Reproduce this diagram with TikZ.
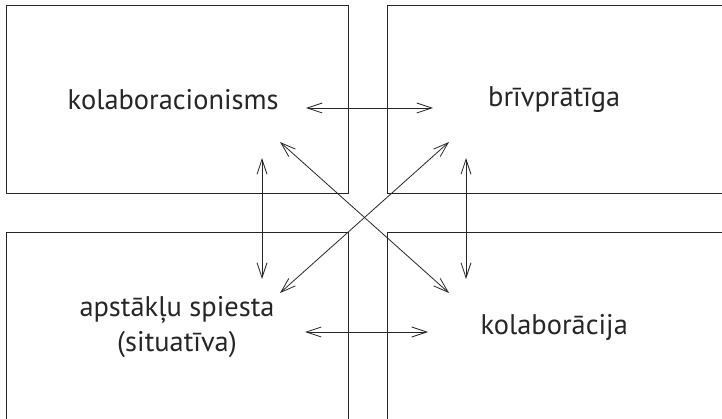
\documentclass[tikz,border=0pt]{standalone}
\usepackage{fontspec}
\setmainfont{PT Sans}
\usetikzlibrary{arrows.meta,positioning}
\tikzset{
  every node/.style={
    font=\fontsize{28.4}{35}\selectfont
  },
  quadrant/.style={
    shape=rectangle,
    draw=black!85,
    line width=1pt,
    minimum width=342pt,
    minimum height=188pt,
    align=center,
    text=black!85
  },
  link/.style={
    {Straight Barb[length=15pt,width=10pt]}-{Straight Barb[length=15pt,width=10pt]},
    draw=black!85,
    line width=0.8pt
  }
}
\begin{document}
\begin{tikzpicture}[x=1pt,y=-1pt]
    \useasboundingbox (0,0) rectangle (722,419);
    \clip (0,0) rectangle (722,419);
    % the four fields
    \node [quadrant] (kolab) at (177,100) { kolaboracionisms };
    \node [quadrant] (briv) at (558,100) { brīvprātīga };
    \node [quadrant] (apst) at (177,327) { apstākļu spiesta\\(situatīva) };
    \node [quadrant] (kolabc) at (558,327) { kolaborācija };
    % arrow ends
    \coordinate (kolab-e) at (306,108);
    \coordinate (briv-w) at (433,108);
    \coordinate (apst-e) at (305,332);
    \coordinate (kolabc-w) at (428,332);
    \coordinate (kolab-s) at (262,158);
    \coordinate (apst-n) at (262,279);
    \coordinate (briv-s) at (466,158);
    \coordinate (kolabc-n) at (466,279);
    \coordinate (kolab-se) at (280,142);
    \coordinate (kolabc-nw) at (449,293);
    \coordinate (briv-sw) at (449,142);
    \coordinate (apst-ne) at (280,293);
    % links
    \draw [link] (kolab-e) -- (briv-w);
    \draw [link] (apst-e) -- (kolabc-w);
    \draw [link] (kolab-s) -- (apst-n);
    \draw [link] (briv-s) -- (kolabc-n);
    \draw [link] (kolab-se) -- (kolabc-nw);
    \draw [link] (briv-sw) -- (apst-ne);
\end{tikzpicture}
\end{document}
